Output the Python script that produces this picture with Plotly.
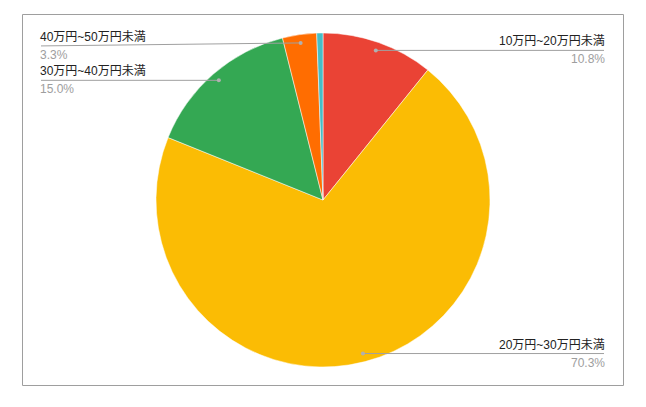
import numpy as np
import plotly.graph_objects as go

# data
labels = ["10万円~20万円未満", "20万円~30万円未満", "30万円~40万円未満", "40万円~50万円未満", "50万円以上"]
values = [10.8, 70.3, 15.0, 3.3, 0.6]
colors = ["#EA4335", "#FBBC04", "#34A853", "#FF6D01", "#46BDC6"]
show_label = [True, True, True, True, False]
label_side = ["right", "right", "left", "left", None]
label_shift = [0, 0, 0, 3, 0]  # px, nudges label line down a little

# the page body has an 8px margin, so the figure is drawn 8px in
OFF = 8
W, H = 646 - OFF, 407 - OFF
cx, cy, r = 323, 200, 167


def px(x):
    return (x - OFF) / W


def py(y):
    return 1 - (y - OFF) / H


fig = go.Figure()
fig.add_trace(go.Pie(
    labels=labels, values=values, sort=False, direction="clockwise", rotation=0,
    marker=dict(colors=colors, line=dict(color="white", width=0.5)),
    textinfo="none", hoverinfo="label+percent", showlegend=False,
    domain=dict(x=[px(cx - r), px(cx + r)], y=[py(cy + r), py(cy - r)]),
))

shapes = []
annotations = []
# outer frame
shapes.append(dict(type="rect", xref="paper", yref="paper",
                   x0=px(22.5), x1=px(623.5), y0=py(385.5), y1=py(14.5),
                   line=dict(color="#9e9e9e", width=1)))

total = sum(values)
cum = 0
for i, v in enumerate(values):
    mid = (cum + v / 2) / total * 2 * np.pi
    cum += v
    if not show_label[i]:
        continue
    dx = cx + 0.95 * r * np.sin(mid)
    dy = cy - 0.95 * r * np.cos(mid)
    ly = dy + label_shift[i]
    if label_side[i] == "right":
        lx, anchor = 604, "right"
    else:
        lx, anchor = 41, "left"
    shapes.append(dict(type="line", xref="paper", yref="paper",
                       x0=px(dx), y0=py(dy), x1=px(lx), y1=py(ly),
                       line=dict(color="#a0a0a0", width=1)))
    shapes.append(dict(type="circle", xref="paper", yref="paper",
                       x0=px(dx - 2), x1=px(dx + 2), y0=py(dy + 2), y1=py(dy - 2),
                       fillcolor="#b0b0b0", line=dict(width=0)))
    annotations.append(dict(xref="paper", yref="paper", x=px(lx), y=py(ly - 1),
                            text=labels[i], showarrow=False, xanchor=anchor, yanchor="bottom",
                            xshift=2 if anchor == "right" else -2,
                            font=dict(size=12, color="#222222"), borderpad=0))
    annotations.append(dict(xref="paper", yref="paper", x=px(lx), y=py(ly + 1),
                            text=f"{v:.1f}%", showarrow=False, xanchor=anchor, yanchor="top",
                            xshift=2 if anchor == "right" else -2,
                            font=dict(size=12, color="#9e9e9e"), borderpad=0))

fig.update_layout(
    width=W, height=H, margin=dict(l=0, r=0, t=0, b=0),
    paper_bgcolor="white", plot_bgcolor="white",
    font=dict(family="Arial, 'Liberation Sans', 'Noto Sans CJK JP', sans-serif"),
    shapes=shapes, annotations=annotations,
)
fig.write_html("out.html")
